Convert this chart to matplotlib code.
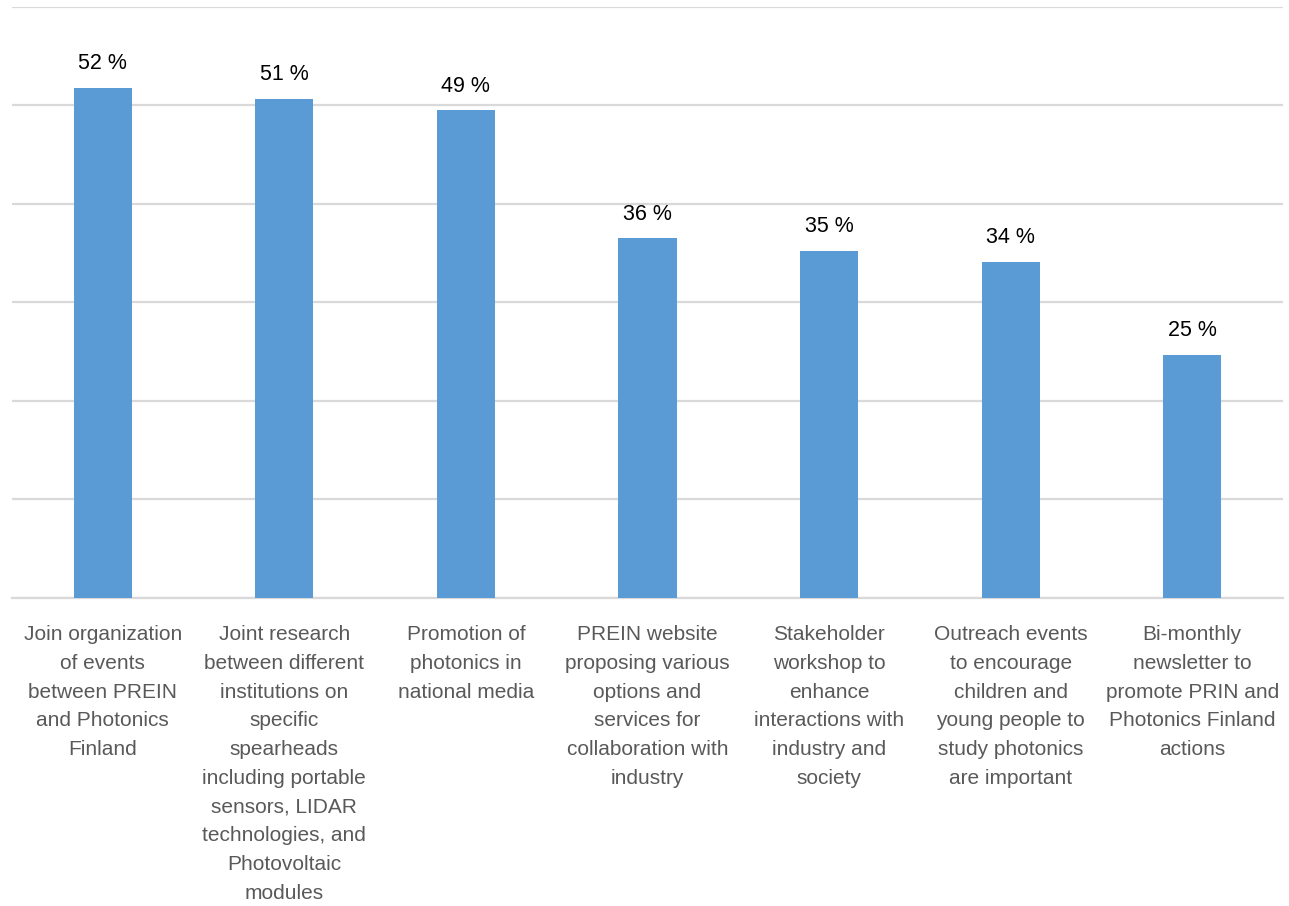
import matplotlib.pyplot as plt

# survey results, share of respondents
labels = [
    "Join organization\nof events\nbetween PREIN\nand Photonics\nFinland",
    "Joint research\nbetween different\ninstitutions on\nspecific\nspearheads\nincluding portable\nsensors, LIDAR\ntechnologies, and\nPhotovoltaic\nmodules",
    "Promotion of\nphotonics in\nnational media",
    "PREIN website\nproposing various\noptions and\nservices for\ncollaboration with\nindustry",
    "Stakeholder\nworkshop to\nenhance\ninteractions with\nindustry and\nsociety",
    "Outreach events\nto encourage\nchildren and\nyoung people to\nstudy photonics\nare important",
    "Bi-monthly\nnewsletter to\npromote PRIN and\nPhotonics Finland\nactions",
]
values = [51.8, 50.7, 49.5, 36.5, 35.2, 34.1, 24.7]
shown = ["52 %", "51 %", "49 %", "36 %", "35 %", "34 %", "25 %"]

plt.rcParams['font.family'] = ['Liberation Sans', 'DejaVu Sans']

fig = plt.figure(figsize=(12.89, 9.06), dpi=100)
ax = fig.add_axes([0.0093, 0.340, 0.986, 0.6523])

x = range(len(values))
bars = ax.bar(x, values, width=0.32, color='#5b9bd5', zorder=3)

for b, s in zip(bars, shown):
    ax.text(b.get_x() + b.get_width() / 2, b.get_height() + 1.4, s,
            ha='center', va='bottom', fontsize=15.5, color='black')

ax.set_xlim(-0.5, len(values) - 0.5)
ax.set_ylim(0, 60)
ax.set_yticks(range(0, 61, 10))
ax.yaxis.grid(True, color='#d9d9d9', linewidth=1.6, zorder=0)
ax.tick_params(axis='y', left=False, labelleft=False)
ax.set_xticks(list(x))
ax.set_xticklabels(labels, fontsize=15, color='#595959', linespacing=1.65)
ax.tick_params(axis='x', length=0, pad=19.5)

for side in ['top', 'left', 'right']:
    ax.spines[side].set_visible(False)
ax.spines['bottom'].set_color('#d9d9d9')
ax.spines['bottom'].set_linewidth(1.6)

fig.savefig('out.png', dpi=100)
